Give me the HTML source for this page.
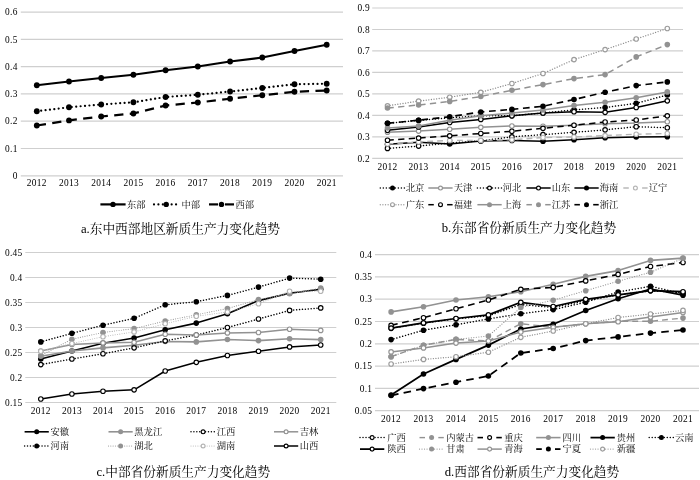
<!DOCTYPE html>
<html lang="zh"><head><meta charset="utf-8"><title>新质生产力变化趋势</title>
<style>
html,body{margin:0;padding:0;background:#fff}
svg{display:block}
.ax{font-family:"Liberation Serif",serif;font-size:9.4px;fill:#000;letter-spacing:0.3px}
.lg{font-family:"Liberation Serif","Noto Serif CJK SC",serif;font-size:9.3px;fill:#000}
.tt{font-family:"Liberation Serif","Noto Serif CJK SC",serif;font-size:12.7px;fill:#000}
</style></head><body>
<svg width="700" height="480" viewBox="0 0 700 480">
<rect width="700" height="480" fill="#fff"/>
<line x1="20.8" y1="175.80" x2="343.0" y2="175.80" stroke="#cfcfcf" stroke-width="1.2"/>
<line x1="20.8" y1="148.51" x2="343.0" y2="148.51" stroke="#cfcfcf" stroke-width="1.2"/>
<line x1="20.8" y1="121.22" x2="343.0" y2="121.22" stroke="#cfcfcf" stroke-width="1.2"/>
<line x1="20.8" y1="93.93" x2="343.0" y2="93.93" stroke="#cfcfcf" stroke-width="1.2"/>
<line x1="20.8" y1="66.64" x2="343.0" y2="66.64" stroke="#cfcfcf" stroke-width="1.2"/>
<line x1="20.8" y1="39.35" x2="343.0" y2="39.35" stroke="#cfcfcf" stroke-width="1.2"/>
<line x1="20.8" y1="12.06" x2="343.0" y2="12.06" stroke="#cfcfcf" stroke-width="1.2"/>
<text x="17.7" y="179.00" text-anchor="end" class="ax">0</text>
<text x="17.7" y="151.71" text-anchor="end" class="ax">0.1</text>
<text x="17.7" y="124.42" text-anchor="end" class="ax">0.2</text>
<text x="17.7" y="97.13" text-anchor="end" class="ax">0.3</text>
<text x="17.7" y="69.84" text-anchor="end" class="ax">0.4</text>
<text x="17.7" y="42.55" text-anchor="end" class="ax">0.5</text>
<text x="17.7" y="15.26" text-anchor="end" class="ax">0.6</text>
<text x="36.8" y="186.00" text-anchor="middle" class="ax">2012</text>
<text x="69.0" y="186.00" text-anchor="middle" class="ax">2013</text>
<text x="101.2" y="186.00" text-anchor="middle" class="ax">2014</text>
<text x="133.4" y="186.00" text-anchor="middle" class="ax">2015</text>
<text x="165.6" y="186.00" text-anchor="middle" class="ax">2016</text>
<text x="197.8" y="186.00" text-anchor="middle" class="ax">2017</text>
<text x="230.1" y="186.00" text-anchor="middle" class="ax">2018</text>
<text x="262.3" y="186.00" text-anchor="middle" class="ax">2019</text>
<text x="294.5" y="186.00" text-anchor="middle" class="ax">2020</text>
<text x="326.7" y="186.00" text-anchor="middle" class="ax">2021</text>
<polyline points="36.8,85.25 69.0,81.50 101.2,78.00 133.4,74.75 165.6,70.25 197.8,66.50 230.1,61.50 262.3,57.50 294.5,51.00 326.7,44.75" fill="none" stroke="#000" stroke-width="2.2" stroke-linejoin="round"/>
<circle cx="36.8" cy="85.25" r="2.9" fill="#000"/>
<circle cx="69.0" cy="81.50" r="2.9" fill="#000"/>
<circle cx="101.2" cy="78.00" r="2.9" fill="#000"/>
<circle cx="133.4" cy="74.75" r="2.9" fill="#000"/>
<circle cx="165.6" cy="70.25" r="2.9" fill="#000"/>
<circle cx="197.8" cy="66.50" r="2.9" fill="#000"/>
<circle cx="230.1" cy="61.50" r="2.9" fill="#000"/>
<circle cx="262.3" cy="57.50" r="2.9" fill="#000"/>
<circle cx="294.5" cy="51.00" r="2.9" fill="#000"/>
<circle cx="326.7" cy="44.75" r="2.9" fill="#000"/>
<polyline points="36.8,111.25 69.0,107.25 101.2,104.50 133.4,102.25 165.6,97.00 197.8,94.75 230.1,91.50 262.3,88.00 294.5,84.25 326.7,83.75" fill="none" stroke="#000" stroke-width="2.2" stroke-dasharray="0.01 4.40" stroke-linecap="round" stroke-linejoin="round"/>
<circle cx="36.8" cy="111.25" r="2.9" fill="#000"/>
<circle cx="69.0" cy="107.25" r="2.9" fill="#000"/>
<circle cx="101.2" cy="104.50" r="2.9" fill="#000"/>
<circle cx="133.4" cy="102.25" r="2.9" fill="#000"/>
<circle cx="165.6" cy="97.00" r="2.9" fill="#000"/>
<circle cx="197.8" cy="94.75" r="2.9" fill="#000"/>
<circle cx="230.1" cy="91.50" r="2.9" fill="#000"/>
<circle cx="262.3" cy="88.00" r="2.9" fill="#000"/>
<circle cx="294.5" cy="84.25" r="2.9" fill="#000"/>
<circle cx="326.7" cy="83.75" r="2.9" fill="#000"/>
<polyline points="36.8,125.50 69.0,120.40 101.2,116.50 133.4,113.50 165.6,105.50 197.8,102.50 230.1,98.75 262.3,95.25 294.5,91.75 326.7,90.50" fill="none" stroke="#000" stroke-width="2.2" stroke-dasharray="9.24 6.38" stroke-linejoin="round"/>
<circle cx="36.8" cy="125.50" r="2.9" fill="#000"/>
<circle cx="69.0" cy="120.40" r="2.9" fill="#000"/>
<circle cx="101.2" cy="116.50" r="2.9" fill="#000"/>
<circle cx="133.4" cy="113.50" r="2.9" fill="#000"/>
<circle cx="165.6" cy="105.50" r="2.9" fill="#000"/>
<circle cx="197.8" cy="102.50" r="2.9" fill="#000"/>
<circle cx="230.1" cy="98.75" r="2.9" fill="#000"/>
<circle cx="262.3" cy="95.25" r="2.9" fill="#000"/>
<circle cx="294.5" cy="91.75" r="2.9" fill="#000"/>
<circle cx="326.7" cy="90.50" r="2.9" fill="#000"/>
<line x1="100.4" y1="204.40" x2="125.6" y2="204.40" stroke="#000" stroke-width="2.2"/>
<circle cx="113.0" cy="204.40" r="2.7" fill="#000"/>
<text x="127.0" y="207.70" class="lg">东部</text>
<line x1="154.0" y1="204.40" x2="178.4" y2="204.40" stroke="#000" stroke-width="2.2" stroke-dasharray="0.01 4.40" stroke-linecap="round"/>
<circle cx="166.2" cy="204.40" r="2.7" fill="#000"/>
<text x="181.4" y="207.70" class="lg">中部</text>
<line x1="209.0" y1="204.40" x2="218.0" y2="204.40" stroke="#000" stroke-width="2.2"/>
<line x1="225.0" y1="204.40" x2="234.0" y2="204.40" stroke="#000" stroke-width="2.2"/>
<circle cx="221.5" cy="204.40" r="2.7" fill="#000"/>
<text x="235.4" y="207.70" class="lg">西部</text>
<text x="180.5" y="232.80" text-anchor="middle" class="tt">a.东中西部地区新质生产力变化趋势</text>
<line x1="372.2" y1="158.30" x2="683.0" y2="158.30" stroke="#cfcfcf" stroke-width="1.2"/>
<line x1="372.2" y1="136.83" x2="683.0" y2="136.83" stroke="#cfcfcf" stroke-width="1.2"/>
<line x1="372.2" y1="115.36" x2="683.0" y2="115.36" stroke="#cfcfcf" stroke-width="1.2"/>
<line x1="372.2" y1="93.89" x2="683.0" y2="93.89" stroke="#cfcfcf" stroke-width="1.2"/>
<line x1="372.2" y1="72.42" x2="683.0" y2="72.42" stroke="#cfcfcf" stroke-width="1.2"/>
<line x1="372.2" y1="50.95" x2="683.0" y2="50.95" stroke="#cfcfcf" stroke-width="1.2"/>
<line x1="372.2" y1="29.48" x2="683.0" y2="29.48" stroke="#cfcfcf" stroke-width="1.2"/>
<line x1="372.2" y1="8.01" x2="683.0" y2="8.01" stroke="#cfcfcf" stroke-width="1.2"/>
<text x="370.0" y="161.50" text-anchor="end" class="ax">0.2</text>
<text x="370.0" y="140.03" text-anchor="end" class="ax">0.3</text>
<text x="370.0" y="118.56" text-anchor="end" class="ax">0.4</text>
<text x="370.0" y="97.09" text-anchor="end" class="ax">0.5</text>
<text x="370.0" y="75.62" text-anchor="end" class="ax">0.6</text>
<text x="370.0" y="54.15" text-anchor="end" class="ax">0.7</text>
<text x="370.0" y="32.68" text-anchor="end" class="ax">0.8</text>
<text x="370.0" y="11.21" text-anchor="end" class="ax">0.9</text>
<text x="387.5" y="169.80" text-anchor="middle" class="ax">2012</text>
<text x="418.6" y="169.80" text-anchor="middle" class="ax">2013</text>
<text x="449.7" y="169.80" text-anchor="middle" class="ax">2014</text>
<text x="480.8" y="169.80" text-anchor="middle" class="ax">2015</text>
<text x="511.9" y="169.80" text-anchor="middle" class="ax">2016</text>
<text x="543.0" y="169.80" text-anchor="middle" class="ax">2017</text>
<text x="574.0" y="169.80" text-anchor="middle" class="ax">2018</text>
<text x="605.1" y="169.80" text-anchor="middle" class="ax">2019</text>
<text x="636.2" y="169.80" text-anchor="middle" class="ax">2020</text>
<text x="667.3" y="169.80" text-anchor="middle" class="ax">2021</text>
<polyline points="387.5,123.30 418.6,120.40 449.7,117.80 480.8,115.80 511.9,115.80 543.0,113.00 574.0,109.80 605.1,107.50 636.2,103.30 667.3,95.00" fill="none" stroke="#000" stroke-width="1.5" stroke-dasharray="0.01 3.00" stroke-linecap="round" stroke-linejoin="round"/>
<circle cx="387.5" cy="123.30" r="2.8" fill="#000"/>
<circle cx="418.6" cy="120.40" r="2.8" fill="#000"/>
<circle cx="449.7" cy="117.80" r="2.8" fill="#000"/>
<circle cx="480.8" cy="115.80" r="2.8" fill="#000"/>
<circle cx="511.9" cy="115.80" r="2.8" fill="#000"/>
<circle cx="543.0" cy="113.00" r="2.8" fill="#000"/>
<circle cx="574.0" cy="109.80" r="2.8" fill="#000"/>
<circle cx="605.1" cy="107.50" r="2.8" fill="#000"/>
<circle cx="636.2" cy="103.30" r="2.8" fill="#000"/>
<circle cx="667.3" cy="95.00" r="2.8" fill="#000"/>
<polyline points="387.5,132.20 418.6,131.10 449.7,129.20 480.8,127.30 511.9,126.00 543.0,126.25 574.0,125.20 605.1,123.75 636.2,123.10 667.3,121.70" fill="none" stroke="#929292" stroke-width="1.5" stroke-linejoin="round"/>
<circle cx="387.5" cy="132.20" r="2.25" fill="#fff" stroke="#929292" stroke-width="1.15"/>
<circle cx="418.6" cy="131.10" r="2.25" fill="#fff" stroke="#929292" stroke-width="1.15"/>
<circle cx="449.7" cy="129.20" r="2.25" fill="#fff" stroke="#929292" stroke-width="1.15"/>
<circle cx="480.8" cy="127.30" r="2.25" fill="#fff" stroke="#929292" stroke-width="1.15"/>
<circle cx="511.9" cy="126.00" r="2.25" fill="#fff" stroke="#929292" stroke-width="1.15"/>
<circle cx="543.0" cy="126.25" r="2.25" fill="#fff" stroke="#929292" stroke-width="1.15"/>
<circle cx="574.0" cy="125.20" r="2.25" fill="#fff" stroke="#929292" stroke-width="1.15"/>
<circle cx="605.1" cy="123.75" r="2.25" fill="#fff" stroke="#929292" stroke-width="1.15"/>
<circle cx="636.2" cy="123.10" r="2.25" fill="#fff" stroke="#929292" stroke-width="1.15"/>
<circle cx="667.3" cy="121.70" r="2.25" fill="#fff" stroke="#929292" stroke-width="1.15"/>
<polyline points="387.5,148.40 418.6,146.10 449.7,143.00 480.8,140.90 511.9,136.80 543.0,134.60 574.0,132.30 605.1,129.80 636.2,126.70 667.3,127.70" fill="none" stroke="#000" stroke-width="1.5" stroke-dasharray="0.01 3.00" stroke-linecap="round" stroke-linejoin="round"/>
<circle cx="387.5" cy="148.40" r="2.25" fill="#fff" stroke="#000" stroke-width="1.15"/>
<circle cx="418.6" cy="146.10" r="2.25" fill="#fff" stroke="#000" stroke-width="1.15"/>
<circle cx="449.7" cy="143.00" r="2.25" fill="#fff" stroke="#000" stroke-width="1.15"/>
<circle cx="480.8" cy="140.90" r="2.25" fill="#fff" stroke="#000" stroke-width="1.15"/>
<circle cx="511.9" cy="136.80" r="2.25" fill="#fff" stroke="#000" stroke-width="1.15"/>
<circle cx="543.0" cy="134.60" r="2.25" fill="#fff" stroke="#000" stroke-width="1.15"/>
<circle cx="574.0" cy="132.30" r="2.25" fill="#fff" stroke="#000" stroke-width="1.15"/>
<circle cx="605.1" cy="129.80" r="2.25" fill="#fff" stroke="#000" stroke-width="1.15"/>
<circle cx="636.2" cy="126.70" r="2.25" fill="#fff" stroke="#000" stroke-width="1.15"/>
<circle cx="667.3" cy="127.70" r="2.25" fill="#fff" stroke="#000" stroke-width="1.15"/>
<polyline points="387.5,130.30 418.6,126.90 449.7,122.50 480.8,119.40 511.9,115.80 543.0,113.00 574.0,111.70 605.1,112.30 636.2,107.50 667.3,100.80" fill="none" stroke="#000" stroke-width="1.5" stroke-linejoin="round"/>
<circle cx="387.5" cy="130.30" r="2.25" fill="#fff" stroke="#000" stroke-width="1.15"/>
<circle cx="418.6" cy="126.90" r="2.25" fill="#fff" stroke="#000" stroke-width="1.15"/>
<circle cx="449.7" cy="122.50" r="2.25" fill="#fff" stroke="#000" stroke-width="1.15"/>
<circle cx="480.8" cy="119.40" r="2.25" fill="#fff" stroke="#000" stroke-width="1.15"/>
<circle cx="511.9" cy="115.80" r="2.25" fill="#fff" stroke="#000" stroke-width="1.15"/>
<circle cx="543.0" cy="113.00" r="2.25" fill="#fff" stroke="#000" stroke-width="1.15"/>
<circle cx="574.0" cy="111.70" r="2.25" fill="#fff" stroke="#000" stroke-width="1.15"/>
<circle cx="605.1" cy="112.30" r="2.25" fill="#fff" stroke="#000" stroke-width="1.15"/>
<circle cx="636.2" cy="107.50" r="2.25" fill="#fff" stroke="#000" stroke-width="1.15"/>
<circle cx="667.3" cy="100.80" r="2.25" fill="#fff" stroke="#000" stroke-width="1.15"/>
<polyline points="387.5,144.30 418.6,142.30 449.7,144.00 480.8,141.00 511.9,140.40 543.0,141.20 574.0,139.70 605.1,137.70 636.2,137.00 667.3,136.70" fill="none" stroke="#000" stroke-width="1.5" stroke-linejoin="round"/>
<circle cx="387.5" cy="144.30" r="2.8" fill="#000"/>
<circle cx="418.6" cy="142.30" r="2.8" fill="#000"/>
<circle cx="449.7" cy="144.00" r="2.8" fill="#000"/>
<circle cx="480.8" cy="141.00" r="2.8" fill="#000"/>
<circle cx="511.9" cy="140.40" r="2.8" fill="#000"/>
<circle cx="543.0" cy="141.20" r="2.8" fill="#000"/>
<circle cx="574.0" cy="139.70" r="2.8" fill="#000"/>
<circle cx="605.1" cy="137.70" r="2.8" fill="#000"/>
<circle cx="636.2" cy="137.00" r="2.8" fill="#000"/>
<circle cx="667.3" cy="136.70" r="2.8" fill="#000"/>
<polyline points="387.5,144.00 418.6,142.00 449.7,140.40 480.8,140.40 511.9,139.80 543.0,137.50 574.0,137.00 605.1,135.60 636.2,134.20 667.3,133.50" fill="none" stroke="#b4b4b4" stroke-width="1.4" stroke-dasharray="5.88 4.06" stroke-linejoin="round"/>
<circle cx="387.5" cy="144.00" r="2.25" fill="#fff" stroke="#b4b4b4" stroke-width="1.15"/>
<circle cx="418.6" cy="142.00" r="2.25" fill="#fff" stroke="#b4b4b4" stroke-width="1.15"/>
<circle cx="449.7" cy="140.40" r="2.25" fill="#fff" stroke="#b4b4b4" stroke-width="1.15"/>
<circle cx="480.8" cy="140.40" r="2.25" fill="#fff" stroke="#b4b4b4" stroke-width="1.15"/>
<circle cx="511.9" cy="139.80" r="2.25" fill="#fff" stroke="#b4b4b4" stroke-width="1.15"/>
<circle cx="543.0" cy="137.50" r="2.25" fill="#fff" stroke="#b4b4b4" stroke-width="1.15"/>
<circle cx="574.0" cy="137.00" r="2.25" fill="#fff" stroke="#b4b4b4" stroke-width="1.15"/>
<circle cx="605.1" cy="135.60" r="2.25" fill="#fff" stroke="#b4b4b4" stroke-width="1.15"/>
<circle cx="636.2" cy="134.20" r="2.25" fill="#fff" stroke="#b4b4b4" stroke-width="1.15"/>
<circle cx="667.3" cy="133.50" r="2.25" fill="#fff" stroke="#b4b4b4" stroke-width="1.15"/>
<polyline points="387.5,105.80 418.6,101.10 449.7,97.20 480.8,92.30 511.9,83.50 543.0,73.50 574.0,59.60 605.1,49.60 636.2,39.00 667.3,28.50" fill="none" stroke="#8c8c8c" stroke-width="1.35" stroke-dasharray="0.01 2.60" stroke-linecap="round" stroke-linejoin="round"/>
<circle cx="387.5" cy="105.80" r="2.25" fill="#fff" stroke="#9c9c9c" stroke-width="1.15"/>
<circle cx="418.6" cy="101.10" r="2.25" fill="#fff" stroke="#9c9c9c" stroke-width="1.15"/>
<circle cx="449.7" cy="97.20" r="2.25" fill="#fff" stroke="#9c9c9c" stroke-width="1.15"/>
<circle cx="480.8" cy="92.30" r="2.25" fill="#fff" stroke="#9c9c9c" stroke-width="1.15"/>
<circle cx="511.9" cy="83.50" r="2.25" fill="#fff" stroke="#9c9c9c" stroke-width="1.15"/>
<circle cx="543.0" cy="73.50" r="2.25" fill="#fff" stroke="#9c9c9c" stroke-width="1.15"/>
<circle cx="574.0" cy="59.60" r="2.25" fill="#fff" stroke="#9c9c9c" stroke-width="1.15"/>
<circle cx="605.1" cy="49.60" r="2.25" fill="#fff" stroke="#9c9c9c" stroke-width="1.15"/>
<circle cx="636.2" cy="39.00" r="2.25" fill="#fff" stroke="#9c9c9c" stroke-width="1.15"/>
<circle cx="667.3" cy="28.50" r="2.25" fill="#fff" stroke="#9c9c9c" stroke-width="1.15"/>
<polyline points="387.5,140.20 418.6,138.10 449.7,135.80 480.8,133.50 511.9,131.25 543.0,128.30 574.0,125.20 605.1,122.00 636.2,120.00 667.3,115.80" fill="none" stroke="#000" stroke-width="1.5" stroke-dasharray="6.30 4.35" stroke-linejoin="round"/>
<circle cx="387.5" cy="140.20" r="2.25" fill="#fff" stroke="#000" stroke-width="1.15"/>
<circle cx="418.6" cy="138.10" r="2.25" fill="#fff" stroke="#000" stroke-width="1.15"/>
<circle cx="449.7" cy="135.80" r="2.25" fill="#fff" stroke="#000" stroke-width="1.15"/>
<circle cx="480.8" cy="133.50" r="2.25" fill="#fff" stroke="#000" stroke-width="1.15"/>
<circle cx="511.9" cy="131.25" r="2.25" fill="#fff" stroke="#000" stroke-width="1.15"/>
<circle cx="543.0" cy="128.30" r="2.25" fill="#fff" stroke="#000" stroke-width="1.15"/>
<circle cx="574.0" cy="125.20" r="2.25" fill="#fff" stroke="#000" stroke-width="1.15"/>
<circle cx="605.1" cy="122.00" r="2.25" fill="#fff" stroke="#000" stroke-width="1.15"/>
<circle cx="636.2" cy="120.00" r="2.25" fill="#fff" stroke="#000" stroke-width="1.15"/>
<circle cx="667.3" cy="115.80" r="2.25" fill="#fff" stroke="#000" stroke-width="1.15"/>
<polyline points="387.5,128.00 418.6,126.00 449.7,120.20 480.8,115.80 511.9,113.00 543.0,110.00 574.0,105.60 605.1,102.30 636.2,97.70 667.3,91.90" fill="none" stroke="#929292" stroke-width="1.5" stroke-linejoin="round"/>
<circle cx="387.5" cy="128.00" r="2.8" fill="#929292"/>
<circle cx="418.6" cy="126.00" r="2.8" fill="#929292"/>
<circle cx="449.7" cy="120.20" r="2.8" fill="#929292"/>
<circle cx="480.8" cy="115.80" r="2.8" fill="#929292"/>
<circle cx="511.9" cy="113.00" r="2.8" fill="#929292"/>
<circle cx="543.0" cy="110.00" r="2.8" fill="#929292"/>
<circle cx="574.0" cy="105.60" r="2.8" fill="#929292"/>
<circle cx="605.1" cy="102.30" r="2.8" fill="#929292"/>
<circle cx="636.2" cy="97.70" r="2.8" fill="#929292"/>
<circle cx="667.3" cy="91.90" r="2.8" fill="#929292"/>
<polyline points="387.5,108.00 418.6,105.00 449.7,101.40 480.8,96.50 511.9,90.20 543.0,84.60 574.0,78.60 605.1,74.60 636.2,56.90 667.3,44.60" fill="none" stroke="#929292" stroke-width="1.5" stroke-dasharray="6.30 4.35" stroke-linejoin="round"/>
<circle cx="387.5" cy="108.00" r="2.8" fill="#929292"/>
<circle cx="418.6" cy="105.00" r="2.8" fill="#929292"/>
<circle cx="449.7" cy="101.40" r="2.8" fill="#929292"/>
<circle cx="480.8" cy="96.50" r="2.8" fill="#929292"/>
<circle cx="511.9" cy="90.20" r="2.8" fill="#929292"/>
<circle cx="543.0" cy="84.60" r="2.8" fill="#929292"/>
<circle cx="574.0" cy="78.60" r="2.8" fill="#929292"/>
<circle cx="605.1" cy="74.60" r="2.8" fill="#929292"/>
<circle cx="636.2" cy="56.90" r="2.8" fill="#929292"/>
<circle cx="667.3" cy="44.60" r="2.8" fill="#929292"/>
<polyline points="387.5,123.30 418.6,120.20 449.7,116.70 480.8,112.00 511.9,109.40 543.0,106.25 574.0,99.50 605.1,92.30 636.2,85.60 667.3,81.90" fill="none" stroke="#000" stroke-width="1.6" stroke-dasharray="6.72 4.64" stroke-linejoin="round"/>
<circle cx="387.5" cy="123.30" r="2.8" fill="#000"/>
<circle cx="418.6" cy="120.20" r="2.8" fill="#000"/>
<circle cx="449.7" cy="116.70" r="2.8" fill="#000"/>
<circle cx="480.8" cy="112.00" r="2.8" fill="#000"/>
<circle cx="511.9" cy="109.40" r="2.8" fill="#000"/>
<circle cx="543.0" cy="106.25" r="2.8" fill="#000"/>
<circle cx="574.0" cy="99.50" r="2.8" fill="#000"/>
<circle cx="605.1" cy="92.30" r="2.8" fill="#000"/>
<circle cx="636.2" cy="85.60" r="2.8" fill="#000"/>
<circle cx="667.3" cy="81.90" r="2.8" fill="#000"/>
<line x1="380.3" y1="188.00" x2="404.6" y2="188.00" stroke="#000" stroke-width="1.5" stroke-dasharray="0.01 3.00" stroke-linecap="round"/>
<circle cx="392.5" cy="188.00" r="2.5" fill="#000"/>
<text x="405.7" y="191.30" class="lg">北京</text>
<line x1="428.3" y1="188.00" x2="452.6" y2="188.00" stroke="#929292" stroke-width="1.5"/>
<circle cx="440.5" cy="188.00" r="1.95" fill="#fff" stroke="#929292" stroke-width="1.15"/>
<text x="453.7" y="191.30" class="lg">天津</text>
<line x1="477.4" y1="188.00" x2="501.7" y2="188.00" stroke="#000" stroke-width="1.5" stroke-dasharray="0.01 3.00" stroke-linecap="round"/>
<circle cx="489.5" cy="188.00" r="1.95" fill="#fff" stroke="#000" stroke-width="1.15"/>
<text x="502.8" y="191.30" class="lg">河北</text>
<line x1="526.4" y1="188.00" x2="550.7" y2="188.00" stroke="#000" stroke-width="1.5"/>
<circle cx="538.5" cy="188.00" r="1.95" fill="#fff" stroke="#000" stroke-width="1.15"/>
<text x="551.8" y="191.30" class="lg">山东</text>
<line x1="574.4" y1="188.00" x2="598.7" y2="188.00" stroke="#000" stroke-width="1.5"/>
<circle cx="586.5" cy="188.00" r="2.5" fill="#000"/>
<text x="599.8" y="191.30" class="lg">海南</text>
<line x1="623.3" y1="188.00" x2="628.8" y2="188.00" stroke="#b4b4b4" stroke-width="1.4"/>
<line x1="642.1" y1="188.00" x2="647.6" y2="188.00" stroke="#b4b4b4" stroke-width="1.4"/>
<circle cx="635.4" cy="188.00" r="1.95" fill="#fff" stroke="#b4b4b4" stroke-width="1.15"/>
<text x="648.7" y="191.30" class="lg">辽宁</text>
<line x1="380.3" y1="204.70" x2="404.6" y2="204.70" stroke="#9c9c9c" stroke-width="1.35" stroke-dasharray="0.01 2.60" stroke-linecap="round"/>
<circle cx="392.5" cy="204.70" r="1.95" fill="#fff" stroke="#9c9c9c" stroke-width="1.15"/>
<text x="405.7" y="208.00" class="lg">广东</text>
<line x1="428.3" y1="204.70" x2="433.8" y2="204.70" stroke="#000" stroke-width="1.5"/>
<line x1="447.1" y1="204.70" x2="452.6" y2="204.70" stroke="#000" stroke-width="1.5"/>
<circle cx="440.5" cy="204.70" r="1.95" fill="#fff" stroke="#000" stroke-width="1.15"/>
<text x="453.7" y="208.00" class="lg">福建</text>
<line x1="477.4" y1="204.70" x2="501.7" y2="204.70" stroke="#929292" stroke-width="1.5"/>
<circle cx="489.5" cy="204.70" r="2.5" fill="#929292"/>
<text x="502.8" y="208.00" class="lg">上海</text>
<line x1="526.4" y1="204.70" x2="531.9" y2="204.70" stroke="#929292" stroke-width="1.5"/>
<line x1="545.2" y1="204.70" x2="550.7" y2="204.70" stroke="#929292" stroke-width="1.5"/>
<circle cx="538.5" cy="204.70" r="2.5" fill="#929292"/>
<text x="551.8" y="208.00" class="lg">江苏</text>
<line x1="574.4" y1="204.70" x2="579.9" y2="204.70" stroke="#000" stroke-width="1.6"/>
<line x1="593.2" y1="204.70" x2="598.7" y2="204.70" stroke="#000" stroke-width="1.6"/>
<circle cx="586.5" cy="204.70" r="2.5" fill="#000"/>
<text x="599.8" y="208.00" class="lg">浙江</text>
<text x="529.0" y="231.50" text-anchor="middle" class="tt">b.东部省份新质生产力变化趋势</text>
<line x1="25.3" y1="402.50" x2="336.3" y2="402.50" stroke="#cfcfcf" stroke-width="1.2"/>
<line x1="25.3" y1="377.50" x2="336.3" y2="377.50" stroke="#cfcfcf" stroke-width="1.2"/>
<line x1="25.3" y1="352.50" x2="336.3" y2="352.50" stroke="#cfcfcf" stroke-width="1.2"/>
<line x1="25.3" y1="327.50" x2="336.3" y2="327.50" stroke="#cfcfcf" stroke-width="1.2"/>
<line x1="25.3" y1="302.50" x2="336.3" y2="302.50" stroke="#cfcfcf" stroke-width="1.2"/>
<line x1="25.3" y1="277.50" x2="336.3" y2="277.50" stroke="#cfcfcf" stroke-width="1.2"/>
<line x1="25.3" y1="252.50" x2="336.3" y2="252.50" stroke="#cfcfcf" stroke-width="1.2"/>
<text x="22.5" y="405.70" text-anchor="end" class="ax">0.15</text>
<text x="22.5" y="380.70" text-anchor="end" class="ax">0.2</text>
<text x="22.5" y="355.70" text-anchor="end" class="ax">0.25</text>
<text x="22.5" y="330.70" text-anchor="end" class="ax">0.3</text>
<text x="22.5" y="305.70" text-anchor="end" class="ax">0.35</text>
<text x="22.5" y="280.70" text-anchor="end" class="ax">0.4</text>
<text x="22.5" y="255.70" text-anchor="end" class="ax">0.45</text>
<text x="40.8" y="413.90" text-anchor="middle" class="ax">2012</text>
<text x="71.9" y="413.90" text-anchor="middle" class="ax">2013</text>
<text x="103.0" y="413.90" text-anchor="middle" class="ax">2014</text>
<text x="134.1" y="413.90" text-anchor="middle" class="ax">2015</text>
<text x="165.2" y="413.90" text-anchor="middle" class="ax">2016</text>
<text x="196.3" y="413.90" text-anchor="middle" class="ax">2017</text>
<text x="227.4" y="413.90" text-anchor="middle" class="ax">2018</text>
<text x="258.5" y="413.90" text-anchor="middle" class="ax">2019</text>
<text x="289.6" y="413.90" text-anchor="middle" class="ax">2020</text>
<text x="320.7" y="413.90" text-anchor="middle" class="ax">2021</text>
<polyline points="40.8,359.00 71.9,351.00 103.0,343.30 134.1,338.00 165.2,329.80 196.3,323.10 227.4,313.75 258.5,300.60 289.6,293.30 320.7,289.20" fill="none" stroke="#000" stroke-width="1.6" stroke-linejoin="round"/>
<circle cx="40.8" cy="359.00" r="2.8" fill="#000"/>
<circle cx="71.9" cy="351.00" r="2.8" fill="#000"/>
<circle cx="103.0" cy="343.30" r="2.8" fill="#000"/>
<circle cx="134.1" cy="338.00" r="2.8" fill="#000"/>
<circle cx="165.2" cy="329.80" r="2.8" fill="#000"/>
<circle cx="196.3" cy="323.10" r="2.8" fill="#000"/>
<circle cx="227.4" cy="313.75" r="2.8" fill="#000"/>
<circle cx="258.5" cy="300.60" r="2.8" fill="#000"/>
<circle cx="289.6" cy="293.30" r="2.8" fill="#000"/>
<circle cx="320.7" cy="289.20" r="2.8" fill="#000"/>
<polyline points="40.8,356.25 71.9,351.00 103.0,347.90 134.1,345.20 165.2,341.50 196.3,341.90 227.4,339.50 258.5,340.60 289.6,338.75 320.7,339.60" fill="none" stroke="#929292" stroke-width="1.6" stroke-linejoin="round"/>
<circle cx="40.8" cy="356.25" r="2.8" fill="#929292"/>
<circle cx="71.9" cy="351.00" r="2.8" fill="#929292"/>
<circle cx="103.0" cy="347.90" r="2.8" fill="#929292"/>
<circle cx="134.1" cy="345.20" r="2.8" fill="#929292"/>
<circle cx="165.2" cy="341.50" r="2.8" fill="#929292"/>
<circle cx="196.3" cy="341.90" r="2.8" fill="#929292"/>
<circle cx="227.4" cy="339.50" r="2.8" fill="#929292"/>
<circle cx="258.5" cy="340.60" r="2.8" fill="#929292"/>
<circle cx="289.6" cy="338.75" r="2.8" fill="#929292"/>
<circle cx="320.7" cy="339.60" r="2.8" fill="#929292"/>
<polyline points="40.8,364.60 71.9,359.00 103.0,353.75 134.1,347.80 165.2,340.80 196.3,335.00 227.4,327.50 258.5,319.00 289.6,310.40 320.7,307.90" fill="none" stroke="#000" stroke-width="1.5" stroke-dasharray="0.01 2.90" stroke-linecap="round" stroke-linejoin="round"/>
<circle cx="40.8" cy="364.60" r="2.25" fill="#fff" stroke="#000" stroke-width="1.15"/>
<circle cx="71.9" cy="359.00" r="2.25" fill="#fff" stroke="#000" stroke-width="1.15"/>
<circle cx="103.0" cy="353.75" r="2.25" fill="#fff" stroke="#000" stroke-width="1.15"/>
<circle cx="134.1" cy="347.80" r="2.25" fill="#fff" stroke="#000" stroke-width="1.15"/>
<circle cx="165.2" cy="340.80" r="2.25" fill="#fff" stroke="#000" stroke-width="1.15"/>
<circle cx="196.3" cy="335.00" r="2.25" fill="#fff" stroke="#000" stroke-width="1.15"/>
<circle cx="227.4" cy="327.50" r="2.25" fill="#fff" stroke="#000" stroke-width="1.15"/>
<circle cx="258.5" cy="319.00" r="2.25" fill="#fff" stroke="#000" stroke-width="1.15"/>
<circle cx="289.6" cy="310.40" r="2.25" fill="#fff" stroke="#000" stroke-width="1.15"/>
<circle cx="320.7" cy="307.90" r="2.25" fill="#fff" stroke="#000" stroke-width="1.15"/>
<polyline points="40.8,351.00 71.9,344.40 103.0,342.90 134.1,342.30 165.2,334.20 196.3,335.00 227.4,332.90 258.5,332.50 289.6,329.20 320.7,330.40" fill="none" stroke="#929292" stroke-width="1.5" stroke-linejoin="round"/>
<circle cx="40.8" cy="351.00" r="2.25" fill="#fff" stroke="#929292" stroke-width="1.15"/>
<circle cx="71.9" cy="344.40" r="2.25" fill="#fff" stroke="#929292" stroke-width="1.15"/>
<circle cx="103.0" cy="342.90" r="2.25" fill="#fff" stroke="#929292" stroke-width="1.15"/>
<circle cx="134.1" cy="342.30" r="2.25" fill="#fff" stroke="#929292" stroke-width="1.15"/>
<circle cx="165.2" cy="334.20" r="2.25" fill="#fff" stroke="#929292" stroke-width="1.15"/>
<circle cx="196.3" cy="335.00" r="2.25" fill="#fff" stroke="#929292" stroke-width="1.15"/>
<circle cx="227.4" cy="332.90" r="2.25" fill="#fff" stroke="#929292" stroke-width="1.15"/>
<circle cx="258.5" cy="332.50" r="2.25" fill="#fff" stroke="#929292" stroke-width="1.15"/>
<circle cx="289.6" cy="329.20" r="2.25" fill="#fff" stroke="#929292" stroke-width="1.15"/>
<circle cx="320.7" cy="330.40" r="2.25" fill="#fff" stroke="#929292" stroke-width="1.15"/>
<polyline points="40.8,341.90 71.9,333.30 103.0,325.20 134.1,318.30 165.2,304.80 196.3,301.70 227.4,295.40 258.5,287.10 289.6,278.10 320.7,279.20" fill="none" stroke="#000" stroke-width="1.5" stroke-dasharray="0.01 2.90" stroke-linecap="round" stroke-linejoin="round"/>
<circle cx="40.8" cy="341.90" r="2.8" fill="#000"/>
<circle cx="71.9" cy="333.30" r="2.8" fill="#000"/>
<circle cx="103.0" cy="325.20" r="2.8" fill="#000"/>
<circle cx="134.1" cy="318.30" r="2.8" fill="#000"/>
<circle cx="165.2" cy="304.80" r="2.8" fill="#000"/>
<circle cx="196.3" cy="301.70" r="2.8" fill="#000"/>
<circle cx="227.4" cy="295.40" r="2.8" fill="#000"/>
<circle cx="258.5" cy="287.10" r="2.8" fill="#000"/>
<circle cx="289.6" cy="278.10" r="2.8" fill="#000"/>
<circle cx="320.7" cy="279.20" r="2.8" fill="#000"/>
<polyline points="40.8,355.60 71.9,339.20 103.0,332.50 134.1,328.60 165.2,321.00 196.3,314.80 227.4,308.50 258.5,299.60 289.6,293.75 320.7,288.10" fill="none" stroke="#929292" stroke-width="1.1" stroke-dasharray="0.01 2.30" stroke-linecap="round" stroke-linejoin="round"/>
<circle cx="40.8" cy="355.60" r="2.8" fill="#929292"/>
<circle cx="71.9" cy="339.20" r="2.8" fill="#929292"/>
<circle cx="103.0" cy="332.50" r="2.8" fill="#929292"/>
<circle cx="134.1" cy="328.60" r="2.8" fill="#929292"/>
<circle cx="165.2" cy="321.00" r="2.8" fill="#929292"/>
<circle cx="196.3" cy="314.80" r="2.8" fill="#929292"/>
<circle cx="227.4" cy="308.50" r="2.8" fill="#929292"/>
<circle cx="258.5" cy="299.60" r="2.8" fill="#929292"/>
<circle cx="289.6" cy="293.75" r="2.8" fill="#929292"/>
<circle cx="320.7" cy="288.10" r="2.8" fill="#929292"/>
<polyline points="40.8,351.20 71.9,343.50 103.0,336.70 134.1,331.90 165.2,323.75 196.3,316.25 227.4,312.00 258.5,303.75 289.6,291.25 320.7,291.25" fill="none" stroke="#b4b4b4" stroke-width="1.1" stroke-dasharray="0.01 2.30" stroke-linecap="round" stroke-linejoin="round"/>
<circle cx="40.8" cy="351.20" r="2.25" fill="#fff" stroke="#b4b4b4" stroke-width="1.15"/>
<circle cx="71.9" cy="343.50" r="2.25" fill="#fff" stroke="#b4b4b4" stroke-width="1.15"/>
<circle cx="103.0" cy="336.70" r="2.25" fill="#fff" stroke="#b4b4b4" stroke-width="1.15"/>
<circle cx="134.1" cy="331.90" r="2.25" fill="#fff" stroke="#b4b4b4" stroke-width="1.15"/>
<circle cx="165.2" cy="323.75" r="2.25" fill="#fff" stroke="#b4b4b4" stroke-width="1.15"/>
<circle cx="196.3" cy="316.25" r="2.25" fill="#fff" stroke="#b4b4b4" stroke-width="1.15"/>
<circle cx="227.4" cy="312.00" r="2.25" fill="#fff" stroke="#b4b4b4" stroke-width="1.15"/>
<circle cx="258.5" cy="303.75" r="2.25" fill="#fff" stroke="#b4b4b4" stroke-width="1.15"/>
<circle cx="289.6" cy="291.25" r="2.25" fill="#fff" stroke="#b4b4b4" stroke-width="1.15"/>
<circle cx="320.7" cy="291.25" r="2.25" fill="#fff" stroke="#b4b4b4" stroke-width="1.15"/>
<polyline points="40.8,399.00 71.9,394.00 103.0,391.25 134.1,389.80 165.2,371.00 196.3,362.30 227.4,355.50 258.5,351.25 289.6,346.90 320.7,345.00" fill="none" stroke="#000" stroke-width="1.5" stroke-linejoin="round"/>
<circle cx="40.8" cy="399.00" r="2.25" fill="#fff" stroke="#000" stroke-width="1.15"/>
<circle cx="71.9" cy="394.00" r="2.25" fill="#fff" stroke="#000" stroke-width="1.15"/>
<circle cx="103.0" cy="391.25" r="2.25" fill="#fff" stroke="#000" stroke-width="1.15"/>
<circle cx="134.1" cy="389.80" r="2.25" fill="#fff" stroke="#000" stroke-width="1.15"/>
<circle cx="165.2" cy="371.00" r="2.25" fill="#fff" stroke="#000" stroke-width="1.15"/>
<circle cx="196.3" cy="362.30" r="2.25" fill="#fff" stroke="#000" stroke-width="1.15"/>
<circle cx="227.4" cy="355.50" r="2.25" fill="#fff" stroke="#000" stroke-width="1.15"/>
<circle cx="258.5" cy="351.25" r="2.25" fill="#fff" stroke="#000" stroke-width="1.15"/>
<circle cx="289.6" cy="346.90" r="2.25" fill="#fff" stroke="#000" stroke-width="1.15"/>
<circle cx="320.7" cy="345.00" r="2.25" fill="#fff" stroke="#000" stroke-width="1.15"/>
<line x1="24.6" y1="431.80" x2="48.8" y2="431.80" stroke="#000" stroke-width="1.6"/>
<circle cx="36.7" cy="431.80" r="2.5" fill="#000"/>
<text x="50.4" y="435.10" class="lg">安徽</text>
<line x1="108.5" y1="431.80" x2="132.7" y2="431.80" stroke="#929292" stroke-width="1.6"/>
<circle cx="120.6" cy="431.80" r="2.5" fill="#929292"/>
<text x="134.3" y="435.10" class="lg">黑龙江</text>
<line x1="191.0" y1="431.80" x2="215.2" y2="431.80" stroke="#000" stroke-width="1.5" stroke-dasharray="0.01 2.90" stroke-linecap="round"/>
<circle cx="203.1" cy="431.80" r="1.95" fill="#fff" stroke="#000" stroke-width="1.15"/>
<text x="216.8" y="435.10" class="lg">江西</text>
<line x1="274.0" y1="431.80" x2="298.2" y2="431.80" stroke="#929292" stroke-width="1.5"/>
<circle cx="286.1" cy="431.80" r="1.95" fill="#fff" stroke="#929292" stroke-width="1.15"/>
<text x="299.8" y="435.10" class="lg">吉林</text>
<line x1="24.6" y1="446.00" x2="48.8" y2="446.00" stroke="#000" stroke-width="1.5" stroke-dasharray="0.01 2.90" stroke-linecap="round"/>
<circle cx="36.7" cy="446.00" r="2.5" fill="#000"/>
<text x="50.4" y="449.30" class="lg">河南</text>
<line x1="108.5" y1="446.00" x2="132.7" y2="446.00" stroke="#929292" stroke-width="1.1" stroke-dasharray="0.01 2.30" stroke-linecap="round"/>
<circle cx="120.6" cy="446.00" r="2.5" fill="#929292"/>
<text x="134.3" y="449.30" class="lg">湖北</text>
<line x1="191.0" y1="446.00" x2="215.2" y2="446.00" stroke="#b4b4b4" stroke-width="1.1" stroke-dasharray="0.01 2.30" stroke-linecap="round"/>
<circle cx="203.1" cy="446.00" r="1.95" fill="#fff" stroke="#b4b4b4" stroke-width="1.15"/>
<text x="216.8" y="449.30" class="lg">湖南</text>
<line x1="274.0" y1="446.00" x2="298.2" y2="446.00" stroke="#000" stroke-width="1.5"/>
<circle cx="286.1" cy="446.00" r="1.95" fill="#fff" stroke="#000" stroke-width="1.15"/>
<text x="299.8" y="449.30" class="lg">山西</text>
<text x="183.3" y="475.80" text-anchor="middle" class="tt">c.中部省份新质生产力变化趋势</text>
<line x1="375.0" y1="410.70" x2="699.0" y2="410.70" stroke="#cfcfcf" stroke-width="1.2"/>
<line x1="375.0" y1="388.40" x2="699.0" y2="388.40" stroke="#cfcfcf" stroke-width="1.2"/>
<line x1="375.0" y1="366.10" x2="699.0" y2="366.10" stroke="#cfcfcf" stroke-width="1.2"/>
<line x1="375.0" y1="343.80" x2="699.0" y2="343.80" stroke="#cfcfcf" stroke-width="1.2"/>
<line x1="375.0" y1="321.50" x2="699.0" y2="321.50" stroke="#cfcfcf" stroke-width="1.2"/>
<line x1="375.0" y1="299.20" x2="699.0" y2="299.20" stroke="#cfcfcf" stroke-width="1.2"/>
<line x1="375.0" y1="276.90" x2="699.0" y2="276.90" stroke="#cfcfcf" stroke-width="1.2"/>
<line x1="375.0" y1="254.60" x2="699.0" y2="254.60" stroke="#cfcfcf" stroke-width="1.2"/>
<text x="372.3" y="413.90" text-anchor="end" class="ax">0.05</text>
<text x="372.3" y="391.60" text-anchor="end" class="ax">0.1</text>
<text x="372.3" y="369.30" text-anchor="end" class="ax">0.15</text>
<text x="372.3" y="347.00" text-anchor="end" class="ax">0.2</text>
<text x="372.3" y="324.70" text-anchor="end" class="ax">0.25</text>
<text x="372.3" y="302.40" text-anchor="end" class="ax">0.3</text>
<text x="372.3" y="280.10" text-anchor="end" class="ax">0.35</text>
<text x="372.3" y="257.80" text-anchor="end" class="ax">0.4</text>
<text x="391.1" y="422.30" text-anchor="middle" class="ax">2012</text>
<text x="423.5" y="422.30" text-anchor="middle" class="ax">2013</text>
<text x="456.0" y="422.30" text-anchor="middle" class="ax">2014</text>
<text x="488.4" y="422.30" text-anchor="middle" class="ax">2015</text>
<text x="520.8" y="422.30" text-anchor="middle" class="ax">2016</text>
<text x="553.2" y="422.30" text-anchor="middle" class="ax">2017</text>
<text x="585.7" y="422.30" text-anchor="middle" class="ax">2018</text>
<text x="618.1" y="422.30" text-anchor="middle" class="ax">2019</text>
<text x="650.5" y="422.30" text-anchor="middle" class="ax">2020</text>
<text x="683.0" y="422.30" text-anchor="middle" class="ax">2021</text>
<polyline points="391.1,328.30 423.5,323.20 456.0,318.80 488.4,315.80 520.8,304.50 553.2,307.50 585.7,300.60 618.1,295.00 650.5,290.80 683.0,292.50" fill="none" stroke="#000" stroke-width="1.5" stroke-dasharray="0.01 3.00" stroke-linecap="round" stroke-linejoin="round"/>
<circle cx="391.1" cy="328.30" r="2.25" fill="#fff" stroke="#000" stroke-width="1.15"/>
<circle cx="423.5" cy="323.20" r="2.25" fill="#fff" stroke="#000" stroke-width="1.15"/>
<circle cx="456.0" cy="318.80" r="2.25" fill="#fff" stroke="#000" stroke-width="1.15"/>
<circle cx="488.4" cy="315.80" r="2.25" fill="#fff" stroke="#000" stroke-width="1.15"/>
<circle cx="520.8" cy="304.50" r="2.25" fill="#fff" stroke="#000" stroke-width="1.15"/>
<circle cx="553.2" cy="307.50" r="2.25" fill="#fff" stroke="#000" stroke-width="1.15"/>
<circle cx="585.7" cy="300.60" r="2.25" fill="#fff" stroke="#000" stroke-width="1.15"/>
<circle cx="618.1" cy="295.00" r="2.25" fill="#fff" stroke="#000" stroke-width="1.15"/>
<circle cx="650.5" cy="290.80" r="2.25" fill="#fff" stroke="#000" stroke-width="1.15"/>
<circle cx="683.0" cy="292.50" r="2.25" fill="#fff" stroke="#000" stroke-width="1.15"/>
<polyline points="391.1,356.70 423.5,345.20 456.0,339.40 488.4,341.00 520.8,323.75 553.2,327.30 585.7,323.75 618.1,321.25 650.5,321.25 683.0,318.10" fill="none" stroke="#929292" stroke-width="1.4" stroke-dasharray="5.88 4.06" stroke-linejoin="round"/>
<circle cx="391.1" cy="356.70" r="2.8" fill="#929292"/>
<circle cx="423.5" cy="345.20" r="2.8" fill="#929292"/>
<circle cx="456.0" cy="339.40" r="2.8" fill="#929292"/>
<circle cx="488.4" cy="341.00" r="2.8" fill="#929292"/>
<circle cx="520.8" cy="323.75" r="2.8" fill="#929292"/>
<circle cx="553.2" cy="327.30" r="2.8" fill="#929292"/>
<circle cx="585.7" cy="323.75" r="2.8" fill="#929292"/>
<circle cx="618.1" cy="321.25" r="2.8" fill="#929292"/>
<circle cx="650.5" cy="321.25" r="2.8" fill="#929292"/>
<circle cx="683.0" cy="318.10" r="2.8" fill="#929292"/>
<polyline points="391.1,311.90 423.5,306.70 456.0,300.00 488.4,296.70 520.8,291.70 553.2,284.20 585.7,276.40 618.1,270.60 650.5,260.40 683.0,258.10" fill="none" stroke="#929292" stroke-width="1.6" stroke-linejoin="round"/>
<circle cx="391.1" cy="311.90" r="2.8" fill="#929292"/>
<circle cx="423.5" cy="306.70" r="2.8" fill="#929292"/>
<circle cx="456.0" cy="300.00" r="2.8" fill="#929292"/>
<circle cx="488.4" cy="296.70" r="2.8" fill="#929292"/>
<circle cx="520.8" cy="291.70" r="2.8" fill="#929292"/>
<circle cx="553.2" cy="284.20" r="2.8" fill="#929292"/>
<circle cx="585.7" cy="276.40" r="2.8" fill="#929292"/>
<circle cx="618.1" cy="270.60" r="2.8" fill="#929292"/>
<circle cx="650.5" cy="260.40" r="2.8" fill="#929292"/>
<circle cx="683.0" cy="258.10" r="2.8" fill="#929292"/>
<polyline points="391.1,325.40 423.5,317.70 456.0,308.75 488.4,300.00 520.8,289.30 553.2,287.40 585.7,280.90 618.1,274.40 650.5,266.50 683.0,262.50" fill="none" stroke="#000" stroke-width="1.6" stroke-dasharray="6.72 4.64" stroke-linejoin="round"/>
<circle cx="391.1" cy="325.40" r="2.25" fill="#fff" stroke="#000" stroke-width="1.15"/>
<circle cx="423.5" cy="317.70" r="2.25" fill="#fff" stroke="#000" stroke-width="1.15"/>
<circle cx="456.0" cy="308.75" r="2.25" fill="#fff" stroke="#000" stroke-width="1.15"/>
<circle cx="488.4" cy="300.00" r="2.25" fill="#fff" stroke="#000" stroke-width="1.15"/>
<circle cx="520.8" cy="289.30" r="2.25" fill="#fff" stroke="#000" stroke-width="1.15"/>
<circle cx="553.2" cy="287.40" r="2.25" fill="#fff" stroke="#000" stroke-width="1.15"/>
<circle cx="585.7" cy="280.90" r="2.25" fill="#fff" stroke="#000" stroke-width="1.15"/>
<circle cx="618.1" cy="274.40" r="2.25" fill="#fff" stroke="#000" stroke-width="1.15"/>
<circle cx="650.5" cy="266.50" r="2.25" fill="#fff" stroke="#000" stroke-width="1.15"/>
<circle cx="683.0" cy="262.50" r="2.25" fill="#fff" stroke="#000" stroke-width="1.15"/>
<polyline points="391.1,395.00 423.5,374.00 456.0,359.40 488.4,345.10 520.8,329.00 553.2,324.20 585.7,310.50 618.1,298.75 650.5,289.00 683.0,295.20" fill="none" stroke="#000" stroke-width="1.75" stroke-linejoin="round"/>
<circle cx="391.1" cy="395.00" r="2.8" fill="#000"/>
<circle cx="423.5" cy="374.00" r="2.8" fill="#000"/>
<circle cx="456.0" cy="359.40" r="2.8" fill="#000"/>
<circle cx="488.4" cy="345.10" r="2.8" fill="#000"/>
<circle cx="520.8" cy="329.00" r="2.8" fill="#000"/>
<circle cx="553.2" cy="324.20" r="2.8" fill="#000"/>
<circle cx="585.7" cy="310.50" r="2.8" fill="#000"/>
<circle cx="618.1" cy="298.75" r="2.8" fill="#000"/>
<circle cx="650.5" cy="289.00" r="2.8" fill="#000"/>
<circle cx="683.0" cy="295.20" r="2.8" fill="#000"/>
<polyline points="391.1,339.60 423.5,330.20 456.0,324.80 488.4,318.90 520.8,313.75 553.2,309.60 585.7,302.20 618.1,292.00 650.5,286.25 683.0,293.75" fill="none" stroke="#000" stroke-width="1.5" stroke-dasharray="0.01 3.00" stroke-linecap="round" stroke-linejoin="round"/>
<circle cx="391.1" cy="339.60" r="2.8" fill="#000"/>
<circle cx="423.5" cy="330.20" r="2.8" fill="#000"/>
<circle cx="456.0" cy="324.80" r="2.8" fill="#000"/>
<circle cx="488.4" cy="318.90" r="2.8" fill="#000"/>
<circle cx="520.8" cy="313.75" r="2.8" fill="#000"/>
<circle cx="553.2" cy="309.60" r="2.8" fill="#000"/>
<circle cx="585.7" cy="302.20" r="2.8" fill="#000"/>
<circle cx="618.1" cy="292.00" r="2.8" fill="#000"/>
<circle cx="650.5" cy="286.25" r="2.8" fill="#000"/>
<circle cx="683.0" cy="293.75" r="2.8" fill="#000"/>
<polyline points="391.1,328.10 423.5,322.90 456.0,318.50 488.4,314.90 520.8,302.30 553.2,306.50 585.7,299.30 618.1,294.80 650.5,290.60 683.0,291.70" fill="none" stroke="#000" stroke-width="1.75" stroke-linejoin="round"/>
<circle cx="391.1" cy="328.10" r="2.25" fill="#fff" stroke="#000" stroke-width="1.15"/>
<circle cx="423.5" cy="322.90" r="2.25" fill="#fff" stroke="#000" stroke-width="1.15"/>
<circle cx="456.0" cy="318.50" r="2.25" fill="#fff" stroke="#000" stroke-width="1.15"/>
<circle cx="488.4" cy="314.90" r="2.25" fill="#fff" stroke="#000" stroke-width="1.15"/>
<circle cx="520.8" cy="302.30" r="2.25" fill="#fff" stroke="#000" stroke-width="1.15"/>
<circle cx="553.2" cy="306.50" r="2.25" fill="#fff" stroke="#000" stroke-width="1.15"/>
<circle cx="585.7" cy="299.30" r="2.25" fill="#fff" stroke="#000" stroke-width="1.15"/>
<circle cx="618.1" cy="294.80" r="2.25" fill="#fff" stroke="#000" stroke-width="1.15"/>
<circle cx="650.5" cy="290.60" r="2.25" fill="#fff" stroke="#000" stroke-width="1.15"/>
<circle cx="683.0" cy="291.70" r="2.25" fill="#fff" stroke="#000" stroke-width="1.15"/>
<polyline points="391.1,356.70 423.5,345.20 456.0,339.40 488.4,336.00 520.8,307.50 553.2,300.20 585.7,290.70 618.1,281.25 650.5,272.30 683.0,258.30" fill="none" stroke="#929292" stroke-width="1.2" stroke-dasharray="0.01 2.50" stroke-linecap="round" stroke-linejoin="round"/>
<circle cx="391.1" cy="356.70" r="2.8" fill="#929292"/>
<circle cx="423.5" cy="345.20" r="2.8" fill="#929292"/>
<circle cx="456.0" cy="339.40" r="2.8" fill="#929292"/>
<circle cx="488.4" cy="336.00" r="2.8" fill="#929292"/>
<circle cx="520.8" cy="307.50" r="2.8" fill="#929292"/>
<circle cx="553.2" cy="300.20" r="2.8" fill="#929292"/>
<circle cx="585.7" cy="290.70" r="2.8" fill="#929292"/>
<circle cx="618.1" cy="281.25" r="2.8" fill="#929292"/>
<circle cx="650.5" cy="272.30" r="2.8" fill="#929292"/>
<circle cx="683.0" cy="258.30" r="2.8" fill="#929292"/>
<polyline points="391.1,351.90 423.5,347.90 456.0,343.10 488.4,341.00 520.8,332.00 553.2,327.30 585.7,323.75 618.1,321.70 650.5,317.00 683.0,312.50" fill="none" stroke="#929292" stroke-width="1.5" stroke-linejoin="round"/>
<circle cx="391.1" cy="351.90" r="2.25" fill="#fff" stroke="#929292" stroke-width="1.15"/>
<circle cx="423.5" cy="347.90" r="2.25" fill="#fff" stroke="#929292" stroke-width="1.15"/>
<circle cx="456.0" cy="343.10" r="2.25" fill="#fff" stroke="#929292" stroke-width="1.15"/>
<circle cx="488.4" cy="341.00" r="2.25" fill="#fff" stroke="#929292" stroke-width="1.15"/>
<circle cx="520.8" cy="332.00" r="2.25" fill="#fff" stroke="#929292" stroke-width="1.15"/>
<circle cx="553.2" cy="327.30" r="2.25" fill="#fff" stroke="#929292" stroke-width="1.15"/>
<circle cx="585.7" cy="323.75" r="2.25" fill="#fff" stroke="#929292" stroke-width="1.15"/>
<circle cx="618.1" cy="321.70" r="2.25" fill="#fff" stroke="#929292" stroke-width="1.15"/>
<circle cx="650.5" cy="317.00" r="2.25" fill="#fff" stroke="#929292" stroke-width="1.15"/>
<circle cx="683.0" cy="312.50" r="2.25" fill="#fff" stroke="#929292" stroke-width="1.15"/>
<polyline points="391.1,395.50 423.5,388.60 456.0,382.20 488.4,376.00 520.8,353.00 553.2,348.50 585.7,340.60 618.1,336.90 650.5,333.10 683.0,330.00" fill="none" stroke="#000" stroke-width="1.8" stroke-dasharray="7.56 5.22" stroke-linejoin="round"/>
<circle cx="391.1" cy="395.50" r="2.8" fill="#000"/>
<circle cx="423.5" cy="388.60" r="2.8" fill="#000"/>
<circle cx="456.0" cy="382.20" r="2.8" fill="#000"/>
<circle cx="488.4" cy="376.00" r="2.8" fill="#000"/>
<circle cx="520.8" cy="353.00" r="2.8" fill="#000"/>
<circle cx="553.2" cy="348.50" r="2.8" fill="#000"/>
<circle cx="585.7" cy="340.60" r="2.8" fill="#000"/>
<circle cx="618.1" cy="336.90" r="2.8" fill="#000"/>
<circle cx="650.5" cy="333.10" r="2.8" fill="#000"/>
<circle cx="683.0" cy="330.00" r="2.8" fill="#000"/>
<polyline points="391.1,364.00 423.5,359.40 456.0,356.70 488.4,352.20 520.8,337.30 553.2,331.00 585.7,323.75 618.1,317.50 650.5,314.00 683.0,310.40" fill="none" stroke="#8c8c8c" stroke-width="1.3" stroke-dasharray="0.01 2.50" stroke-linecap="round" stroke-linejoin="round"/>
<circle cx="391.1" cy="364.00" r="2.25" fill="#fff" stroke="#9c9c9c" stroke-width="1.15"/>
<circle cx="423.5" cy="359.40" r="2.25" fill="#fff" stroke="#9c9c9c" stroke-width="1.15"/>
<circle cx="456.0" cy="356.70" r="2.25" fill="#fff" stroke="#9c9c9c" stroke-width="1.15"/>
<circle cx="488.4" cy="352.20" r="2.25" fill="#fff" stroke="#9c9c9c" stroke-width="1.15"/>
<circle cx="520.8" cy="337.30" r="2.25" fill="#fff" stroke="#9c9c9c" stroke-width="1.15"/>
<circle cx="553.2" cy="331.00" r="2.25" fill="#fff" stroke="#9c9c9c" stroke-width="1.15"/>
<circle cx="585.7" cy="323.75" r="2.25" fill="#fff" stroke="#9c9c9c" stroke-width="1.15"/>
<circle cx="618.1" cy="317.50" r="2.25" fill="#fff" stroke="#9c9c9c" stroke-width="1.15"/>
<circle cx="650.5" cy="314.00" r="2.25" fill="#fff" stroke="#9c9c9c" stroke-width="1.15"/>
<circle cx="683.0" cy="310.40" r="2.25" fill="#fff" stroke="#9c9c9c" stroke-width="1.15"/>
<line x1="360.0" y1="437.60" x2="384.3" y2="437.60" stroke="#000" stroke-width="1.5" stroke-dasharray="0.01 3.00" stroke-linecap="round"/>
<circle cx="372.1" cy="437.60" r="1.95" fill="#fff" stroke="#000" stroke-width="1.15"/>
<text x="387.3" y="440.90" class="lg">广西</text>
<line x1="419.5" y1="437.60" x2="425.0" y2="437.60" stroke="#929292" stroke-width="1.4"/>
<line x1="438.3" y1="437.60" x2="443.8" y2="437.60" stroke="#929292" stroke-width="1.4"/>
<circle cx="431.6" cy="437.60" r="2.5" fill="#929292"/>
<text x="446.2" y="440.90" class="lg">内蒙古</text>
<line x1="477.5" y1="437.60" x2="483.0" y2="437.60" stroke="#000" stroke-width="1.6"/>
<line x1="496.3" y1="437.60" x2="501.8" y2="437.60" stroke="#000" stroke-width="1.6"/>
<circle cx="489.6" cy="437.60" r="1.95" fill="#fff" stroke="#000" stroke-width="1.15"/>
<text x="504.2" y="440.90" class="lg">重庆</text>
<line x1="536.2" y1="437.60" x2="560.5" y2="437.60" stroke="#929292" stroke-width="1.6"/>
<circle cx="548.4" cy="437.60" r="2.5" fill="#929292"/>
<text x="562.5" y="440.90" class="lg">四川</text>
<line x1="590.5" y1="437.60" x2="614.8" y2="437.60" stroke="#000" stroke-width="1.75"/>
<circle cx="602.6" cy="437.60" r="2.5" fill="#000"/>
<text x="616.8" y="440.90" class="lg">贵州</text>
<line x1="649.2" y1="437.60" x2="673.5" y2="437.60" stroke="#000" stroke-width="1.5" stroke-dasharray="0.01 3.00" stroke-linecap="round"/>
<circle cx="661.4" cy="437.60" r="2.5" fill="#000"/>
<text x="675.0" y="440.90" class="lg">云南</text>
<line x1="360.0" y1="449.10" x2="384.3" y2="449.10" stroke="#000" stroke-width="1.75"/>
<circle cx="372.1" cy="449.10" r="1.95" fill="#fff" stroke="#000" stroke-width="1.15"/>
<text x="387.3" y="452.40" class="lg">陕西</text>
<line x1="419.5" y1="449.10" x2="443.8" y2="449.10" stroke="#929292" stroke-width="1.2" stroke-dasharray="0.01 2.50" stroke-linecap="round"/>
<circle cx="431.6" cy="449.10" r="2.5" fill="#929292"/>
<text x="446.2" y="452.40" class="lg">甘肃</text>
<line x1="477.5" y1="449.10" x2="501.8" y2="449.10" stroke="#929292" stroke-width="1.5"/>
<circle cx="489.6" cy="449.10" r="1.95" fill="#fff" stroke="#929292" stroke-width="1.15"/>
<text x="504.2" y="452.40" class="lg">青海</text>
<line x1="536.2" y1="449.10" x2="541.8" y2="449.10" stroke="#000" stroke-width="1.8"/>
<line x1="555.0" y1="449.10" x2="560.5" y2="449.10" stroke="#000" stroke-width="1.8"/>
<circle cx="548.4" cy="449.10" r="2.5" fill="#000"/>
<text x="562.5" y="452.40" class="lg">宁夏</text>
<line x1="590.5" y1="449.10" x2="614.8" y2="449.10" stroke="#9c9c9c" stroke-width="1.3" stroke-dasharray="0.01 2.50" stroke-linecap="round"/>
<circle cx="602.6" cy="449.10" r="1.95" fill="#fff" stroke="#9c9c9c" stroke-width="1.15"/>
<text x="616.8" y="452.40" class="lg">新疆</text>
<text x="532.0" y="475.70" text-anchor="middle" class="tt">d.西部省份新质生产力变化趋势</text>
</svg>
</body></html>
